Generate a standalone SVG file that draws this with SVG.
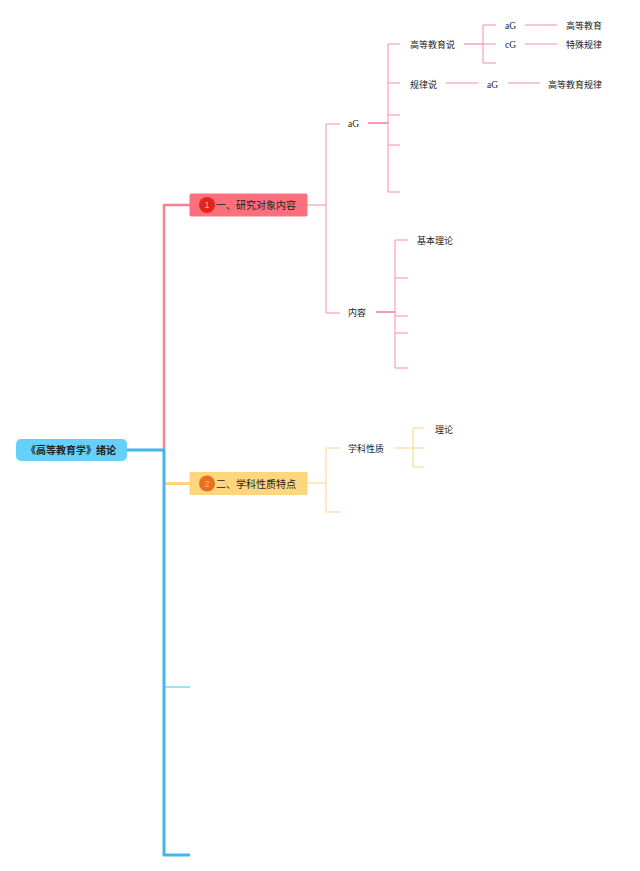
<svg xmlns="http://www.w3.org/2000/svg" width="640" height="871" viewBox="0 0 640 871">
<style>
text{font-family:"Liberation Sans","Noto Sans CJK SC",sans-serif;font-size:9px;fill:#222;dominant-baseline:central}
.m{font-size:10px}
.n{font-family:"Liberation Serif","Noto Sans CJK SC",serif;font-size:9.5px}
.c{fill:none;stroke-linejoin:round}
.p{stroke:#f78ea4;stroke-width:1}
.y{stroke:#fbd48a;stroke-width:1}
.b{fill:#ffb0a0;font-size:9px;text-anchor:middle}
</style>
<rect width="640" height="871" fill="#fff"/>
<g id="connectors">
<path class="c" d="M164 450V205H190" stroke="#f9808e" stroke-width="2.500"/>
<path class="c" d="M164 483.500H190" stroke="#ffd57e" stroke-width="3"/>
<path class="c" d="M164 687H190" stroke="#3fcbdc" stroke-width="1"/>
<path class="c" d="M127 450H164V855H190" stroke="#45b5ea" stroke-width="3"/>
<path class="c p" d="M307 205H326M340 124H326V313H340"/>
<path class="c" d="M368 123H388" stroke="#ee7f90" stroke-width="1.500"/>
<path class="c p" d="M400 44H388V192H400M388 83H400M388 115H400M388 145H400"/>
<path class="c" d="M464 44H483" stroke="#ee8b9a" stroke-width="1.200"/>
<path class="c p" d="M496 25H483V63H496M483 44H496"/>
<path class="c p" d="M525 25H557M525 44H557M446 83H478M508 83H540"/>
<path class="c" d="M376 312H395" stroke="#ee7f90" stroke-width="1.500"/>
<path class="c p" d="M408 240H395V368H408M395 278H408M395 316H408M395 333H408"/>
<path class="c y" d="M307 483H326M340 448H326V512H340"/>
<path class="c y" d="M394 448H413M424 428H413V467H424M413 448H424"/>
</g>
<g id="root"><rect x="16" y="439" width="111" height="22" rx="5" fill="#66d0fb"/><text x="71" y="450" text-anchor="middle" font-weight="bold" style="font-size:10px">《高等教育学》绪论</text></g>
<g id="n1"><rect x="189.500" y="193.500" width="118" height="23" rx="2" fill="#fc707e"/><circle cx="207" cy="205" r="8" fill="#e0261a"/><text class="b" x="207" y="205">1</text><text class="m" x="216" y="205">一、研究对象内容</text></g>
<g id="n2"><rect x="189.500" y="472" width="118" height="23" rx="1" fill="#ffd67e"/><circle cx="207" cy="483.500" r="8" fill="#e8701c"/><text class="b" x="207" y="483.500">2</text><text class="m" x="216" y="484">二、学科性质特点</text></g>
<g id="t1"><text class="n" x="348" y="124">aG</text></g>
<g id="t2"><text x="348" y="313">内容</text></g>
<g id="t3"><text x="410" y="45">高等教育说</text></g>
<g id="t4"><text x="410" y="84.500">规律说</text></g>
<g id="t5"><text class="n" x="505" y="26">aG</text></g>
<g id="t6"><text class="n" x="505" y="45">cG</text></g>
<g id="t7"><text x="566" y="26">高等教育</text></g>
<g id="t8"><text x="566" y="45">特殊规律</text></g>
<g id="t9"><text class="n" x="487" y="84.500">aG</text></g>
<g id="t10"><text x="548" y="84.500">高等教育规律</text></g>
<g id="t11"><text x="417" y="240.500">基本理论</text></g>
<g id="t12"><text x="348" y="448.500">学科性质</text></g>
<g id="t13"><text x="435" y="429.500">理论</text></g>
</svg>
